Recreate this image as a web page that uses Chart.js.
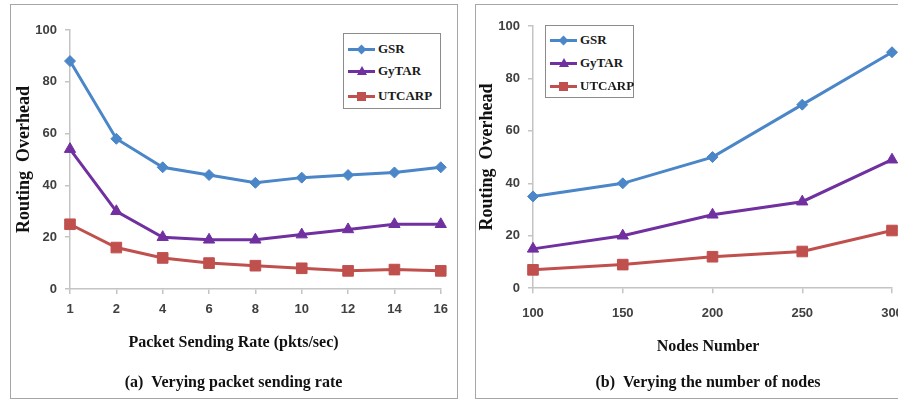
<!DOCTYPE html>
<html>
<head>
<meta charset="utf-8">
<script src="https://cdn.jsdelivr.net/npm/chart.js@4/dist/chart.umd.min.js"></script>
<style>
  html, body { margin: 0; padding: 0; background: #fff; }
  body { width: 898px; height: 399px; overflow: hidden; position: relative; }
  .panel { position: absolute; border: 1.5px solid #a6a6a6; box-sizing: border-box; background: #fff; }
  canvas { position: absolute; }
  .legend { position: absolute; border: 1.5px solid #8c8c8c; box-sizing: border-box; background: #fff;
            font: bold 13px "Liberation Serif", "Times New Roman", serif; color: #1a1a1a; }
  .legend .row { position: absolute; left: 0; height: 16px; display: flex; align-items: center; }
  .legend .key { position: relative; width: 27px; height: 16px; margin-left: 4px; margin-right: 3px; }
  .legend .key .ln { position: absolute; left: 0; right: 0; top: 6.5px; height: 3px; }
  .legend .key .mk { position: absolute; left: 50%; top: 50%; }
</style>
</head>
<body>
<div class="panel" style="left:10px; top:4px; width:448px; height:395px;"></div>
<div class="panel" style="left:475px; top:4px; width:500px; height:395px;"></div>
<canvas id="rateChart" width="445" height="392" style="left:11px; top:5px;"></canvas>
<canvas id="nodesChart" width="464" height="392" style="left:476px; top:5px;"></canvas>
<div class="legend" id="rateLegend" style="left:343px; top:33px; width:98px; height:76px;"></div>
<div class="legend" id="nodesLegend" style="left:545px; top:25px; width:89px; height:73px;"></div>

<script>
// categories
const rateLabels = ['1', '2', '4', '6', '8', '10', '12', '14', '16'];
const nodeLabels = ['100', '150', '200', '250', '300'];
const seriesNames = ['GSR', 'GyTAR', 'UTCARP'];

// routing overhead vs packet sending rate
const gsrByRate = [88, 58, 47, 44, 41, 43, 44, 45, 47];
const gytarByRate = [54, 30, 20, 19, 19, 21, 23, 25, 25];
const utcarpByRate = [25, 16, 12, 10, 9, 8, 7, 7.5, 7];

// routing overhead vs number of nodes
const gsrByNodes = [35, 40, 50, 70, 90];
const gytarByNodes = [15, 20, 28, 33, 49];
const utcarpByNodes = [7, 9, 12, 14, 22];

const yMin = 0, yMax = 100, yStep = 20;

const colors = ['#4a86c8', '#7030a0', '#c0504d'];
const markers = ['rectRot', 'triangle', 'rect'];
const markerSize = [5.5, 6.5, 7.5];

const tickFont = { family: '"Liberation Sans Narrow", "Liberation Sans", Arial, sans-serif', size: 13, weight: 'bold' };
const titleFont = { family: '"Liberation Serif", "Times New Roman", serif', size: 16, weight: 'bold' };

function makeDatasets(seriesValues) {
    return seriesValues.map(function(values, i) {
        return {
            label: seriesNames[i],
            data: values,
            borderColor: colors[i],
            backgroundColor: colors[i],
            borderWidth: 3,
            pointStyle: markers[i],
            pointRadius: markerSize[i],
            pointBorderWidth: 1,
            pointBackgroundColor: colors[i],
            tension: 0
        };
    });
}

function makeChart(id, labels, seriesValues, cfg) {
    return new Chart(document.getElementById(id), {
        type: 'line',
        data: { labels: labels, datasets: makeDatasets(seriesValues) },
        options: {
            responsive: false,
            animation: false,
            devicePixelRatio: 1,
            layout: { padding: { top: cfg.padTop, right: 0, left: 0, bottom: cfg.padBottom } },
            plugins: {
                legend: { display: false },
                tooltip: { enabled: false },
                // x axis title and caption sit under the plot, centred on the panel
                subtitle: {
                    display: true,
                    position: 'bottom',
                    text: cfg.xTitle,
                    color: '#111',
                    font: titleFont,
                    padding: cfg.xTitlePad
                },
                title: {
                    display: true,
                    position: 'bottom',
                    text: cfg.caption,
                    color: '#111',
                    font: titleFont,
                    padding: cfg.captionPad
                }
            },
            scales: {
                x: {
                    offset: false,
                    afterFit: function(s) { s.height = 40; },
                    grid: { drawOnChartArea: false, drawTicks: true, tickLength: 5, color: '#c4c4c4', lineWidth: 1.5 },
                    border: { color: '#c4c4c4', width: 1.5 },
                    ticks: { color: '#404040', font: tickFont, padding: cfg.xTickPad, maxRotation: 0, autoSkip: false }
                },
                y: {
                    min: yMin,
                    max: yMax,
                    afterFit: function(s) { s.width = cfg.yWidth; },
                    grid: { drawOnChartArea: false, drawTicks: true, tickLength: 5, color: '#c4c4c4', lineWidth: 1.5 },
                    border: { color: '#c4c4c4', width: 1.5 },
                    ticks: { stepSize: yStep, color: '#404040', font: tickFont, padding: 8 },
                    title: {
                        display: true,
                        text: 'Routing  Overhead',
                        color: '#111',
                        font: { family: titleFont.family, size: 18, weight: 'bold' },
                        padding: { top: cfg.yTitlePad, bottom: 0 }
                    }
                },
                // empty right margin so the plot ends where the original does
                spacer: {
                    type: 'linear',
                    position: 'right',
                    afterFit: function(s) { s.width = cfg.rightGap; },
                    grid: { display: false },
                    border: { display: false },
                    ticks: { display: false }
                }
            }
        }
    });
}

function buildLegend(id, rowTops) {
    const box = document.getElementById(id);
    seriesNames.forEach(function(name, i) {
        const row = document.createElement('div');
        row.className = 'row';
        row.style.top = rowTops[i] + 'px';
        let mk;
        if (markers[i] === 'rectRot') {
            mk = '<div class="mk" style="width:7px;height:7px;margin:-3.5px 0 0 -3.5px;background:' + colors[i] + ';transform:rotate(45deg)"></div>';
        } else if (markers[i] === 'triangle') {
            mk = '<div class="mk" style="width:0;height:0;margin:-5px 0 0 -5px;border-left:5px solid transparent;border-right:5px solid transparent;border-bottom:9px solid ' + colors[i] + '"></div>';
        } else {
            mk = '<div class="mk" style="width:9px;height:9px;margin:-4.5px 0 0 -4.5px;background:' + colors[i] + '"></div>';
        }
        row.innerHTML = '<div class="key"><div class="ln" style="background:' + colors[i] + '"></div>' + mk + '</div><span>' + name + '</span>';
        box.appendChild(row);
    });
}

makeChart('rateChart', rateLabels, [gsrByRate, gytarByRate, utcarpByRate], {
    padTop: 25,
    padBottom: 4.6,
    rightGap: 15,
    yWidth: 59,
    yTitlePad: 3,
    xTickPad: 8,
    xTitle: 'Packet Sending Rate (pkts/sec)',
    xTitlePad: { top: 4, bottom: 8 },
    caption: '(a)  Verying packet sending rate',
    captionPad: { top: 13, bottom: 0 }
});

makeChart('nodesChart', nodeLabels, [gsrByNodes, gytarByNodes, utcarpByNodes], {
    padTop: 21,
    padBottom: 4.4,
    rightGap: 48,
    yWidth: 57,
    yTitlePad: 1,
    xTickPad: 12,
    xTitle: 'Nodes Number',
    xTitlePad: { top: 9, bottom: 8 },
    caption: '(b)  Verying the number of nodes',
    captionPad: { top: 9, bottom: 0 }
});

buildLegend('rateLegend', [7, 29, 54]);
buildLegend('nodesLegend', [6, 29, 52]);
</script>
</body>
</html>
